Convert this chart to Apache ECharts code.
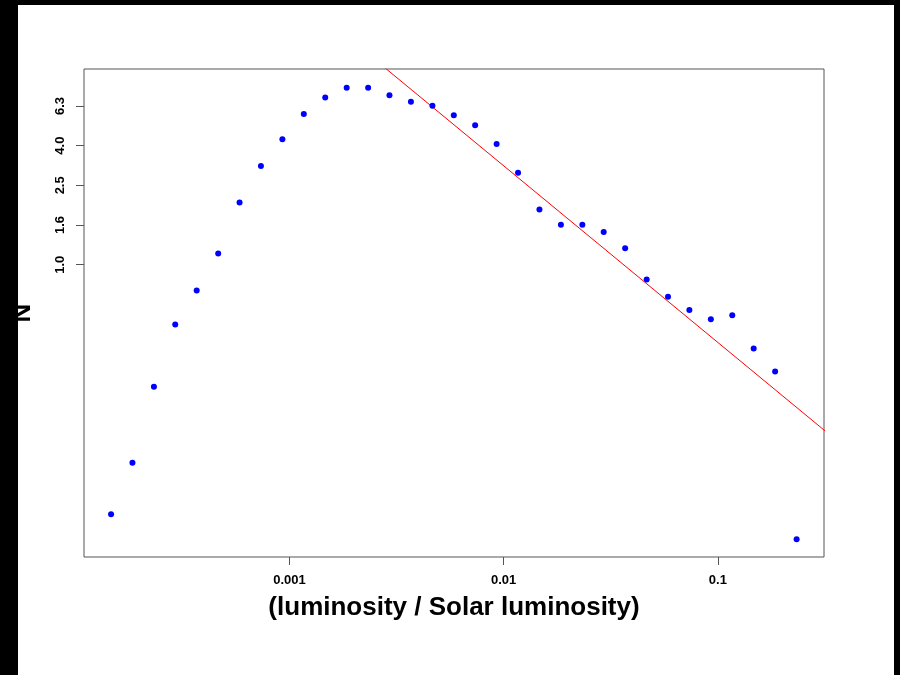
<!DOCTYPE html>
<html>
<head>
<meta charset="utf-8">
<script src="https://cdn.jsdelivr.net/npm/echarts@6/dist/echarts.min.js"></script>
<style>
  html, body { margin: 0; padding: 0; background: #fff; }
  #main { width: 900px; height: 675px; }
</style>
</head>
<body>
<div id="main"></div>
<script>
// luminosity bins (solar units) and counts
var lum = [1.47e-4, 1.85e-4, 2.33e-4, 2.93e-4, 3.69e-4, 4.65e-4, 5.85e-4, 7.36e-4, 9.27e-4,
           1.167e-3, 1.469e-3, 1.85e-3, 2.33e-3, 2.93e-3, 3.69e-3, 4.65e-3, 5.85e-3, 7.36e-3, 9.27e-3,
           0.01167, 0.01469, 0.0185, 0.0233, 0.0293, 0.0369, 0.0465, 0.0585, 0.0736, 0.0927,
           0.1167, 0.1469, 0.185, 0.233];
var counts = [0.0553, 0.1004, 0.243, 0.499, 0.742, 1.14, 2.06, 3.14, 4.29,
              5.74, 6.97, 7.79, 7.79, 7.14, 6.63, 6.32, 5.66, 5.04, 4.06,
              2.91, 1.90, 1.59, 1.59, 1.46, 1.21, 0.843, 0.689, 0.592, 0.531,
              0.556, 0.378, 0.290, 0.0413];

// fitted power law, two end points (clipped by the plot box)
var fitX = [0.001, 0.5];
var fitY = [24.5, 0.0967];

var xTicks = [0.001, 0.01, 0.1];
var xTickLabels = ['0.001', '0.01', '0.1'];
var yTicks = [1.0, 1.585, 2.512, 3.981, 6.310];
var yTickLabels = ['1.0', '1.6', '2.5', '4.0', '6.3'];

function pickLabel(ticks, labels, v) {
    var best = 0;
    for (var i = 1; i < ticks.length; i++) {
        if (Math.abs(Math.log(ticks[i] / v)) < Math.abs(Math.log(ticks[best] / v))) best = i;
    }
    return labels[best];
}

var myChart = echarts.init(document.getElementById('main'));
var option = {
    animation: false,
    backgroundColor: '#fff',
    textStyle: { fontFamily: 'Liberation Sans' },
    grid: {
        show: true,
        left: 84,
        top: 69,
        right: 76,
        bottom: 118,
        borderColor: '#555',
        borderWidth: 1,
        backgroundColor: 'transparent'
    },
    xAxis: {
        type: 'log',
        min: 1.099e-4,
        max: 0.3128,
        name: '(luminosity / Solar luminosity)',
        nameLocation: 'middle',
        nameGap: 38,
        nameTextStyle: { fontSize: 26, fontWeight: 'bold', color: '#000' },
        axisLine: { show: false },
        axisTick: {
            show: true, inside: false, length: 8,
            customValues: xTicks,
            lineStyle: { color: '#555' }
        },
        axisLabel: {
            customValues: xTicks,
            margin: 17,
            fontSize: 13,
            fontWeight: 'bold',
            color: '#000',
            formatter: function (v) { return pickLabel(xTicks, xTickLabels, v); }
        },
        splitLine: { show: false },
        minorTick: { show: false }
    },
    yAxis: {
        type: 'log',
        min: 0.03365,
        max: 9.69,
        name: 'N',
        nameLocation: 'middle',
        nameRotate: 90,
        nameGap: 48,
        nameTextStyle: { fontSize: 26, fontWeight: 'bold', color: '#000' },
        axisLine: { show: false },
        axisTick: {
            show: true, inside: false, length: 8,
            customValues: yTicks,
            lineStyle: { color: '#555' }
        },
        axisLabel: {
            customValues: yTicks,
            rotate: 90,
            margin: 17,
            fontSize: 13,
            fontWeight: 'bold',
            color: '#000',
            formatter: function (v) { return pickLabel(yTicks, yTickLabels, v); }
        },
        splitLine: { show: false },
        minorTick: { show: false }
    },
    series: [
        {
            type: 'line',
            data: fitX.map(function (x, i) { return [x, fitY[i]]; }),
            showSymbol: false,
            clip: true,
            lineStyle: { color: '#ff0000', width: 1 },
            z: 2
        },
        {
            type: 'scatter',
            data: lum.map(function (x, i) { return [x, counts[i]]; }),
            symbol: 'circle',
            symbolSize: 6,
            itemStyle: { color: '#0000ff', opacity: 1 },
            z: 3
        }
    ],
    graphic: [
        { type: 'rect', left: 0, top: 0, shape: { width: 18, height: 675 }, style: { fill: '#000' }, z: 100 },
        { type: 'rect', left: 0, top: 0, shape: { width: 900, height: 5 }, style: { fill: '#000' }, z: 100 },
        { type: 'rect', left: 894, top: 0, shape: { width: 6, height: 675 }, style: { fill: '#000' }, z: 100 }
    ]
};
myChart.setOption(option);
window.onresize = myChart.resize;
</script>
</body>
</html>
